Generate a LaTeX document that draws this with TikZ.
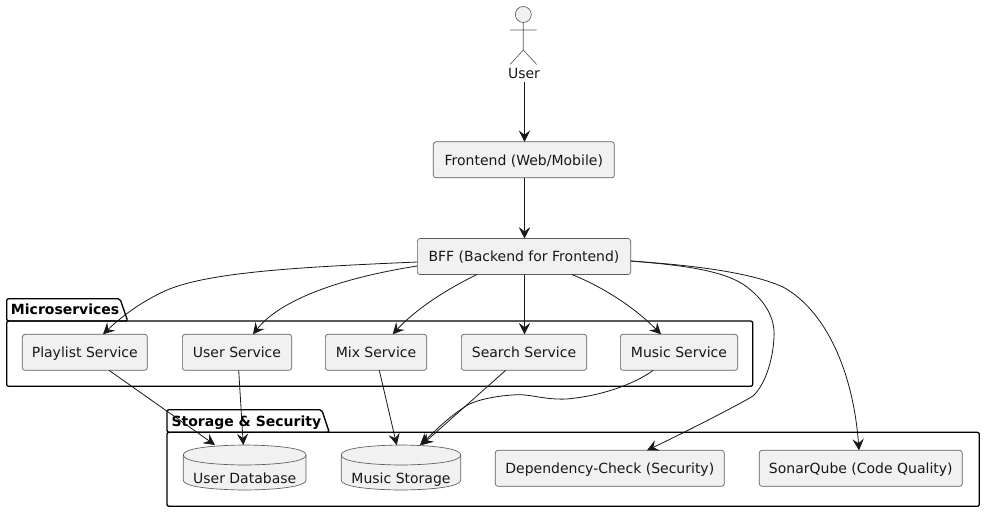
\documentclass[tikz,border=0pt]{standalone}
\usepackage{fontspec}
\setmainfont{DejaVu Sans}
\usetikzlibrary{arrows.meta}
\definecolor{boxfill}{HTML}{F1F1F1}
\definecolor{ink}{HTML}{181818}
\tikzset{
  svc/.style={draw=ink!70,line width=.5pt,fill=boxfill,rounded corners=2pt,inner sep=0pt,outer sep=0pt,
    minimum height=27pt,font=\fontsize{10.5}{12}\selectfont,text=ink,text height=9.2pt,text depth=1pt},
  txt/.style={inner sep=0pt,font=\fontsize{10.5}{12}\selectfont,text=ink,text height=9.2pt,text depth=1pt},
  pkgtitle/.style={inner sep=0pt,anchor=west,font=\fontsize{10.5}{12}\selectfont\bfseries,text=black,text height=9.2pt,text depth=1pt},
  pkg/.style={draw=black,line width=1pt,rounded corners=1.5pt,line join=round},
  figure/.style={draw=ink!70,line width=.5pt,fill=boxfill},
  figline/.style={draw=ink!70,line width=.5pt},
  conn/.style={draw=ink,line width=.6pt,-{Stealth[length=8.5pt,width=8.5pt,inset=3.2pt]}},
  anchorbox/.style={inner sep=0pt,outer sep=0pt},
}
\newcommand{\cylshape}[3]{%
  \path[figure] (#1,455) .. controls (#1,445) and (#2,445) .. (#2,445)
    .. controls (#2,445) and (#3,445) .. (#3,455) -- (#3,480)
    .. controls (#3,490) and (#2,490) .. (#2,490)
    .. controls (#2,490) and (#1,490) .. (#1,480) -- cycle;
  \path[figline] (#1,455) .. controls (#1,465) and (#2,465) .. (#2,465)
    .. controls (#2,465) and (#3,465) .. (#3,455);
}
\begin{document}
\begin{tikzpicture}[x=.75pt,y=-.75pt]
\useasboundingbox (0,0) rectangle (985,512);
\fill[white] (0,0) rectangle (985,512);
% packages
\path[pkg] (6.7,321) -- (6.7,298.7) -- (120,298.7) -- (127.7,321) -- cycle;
\path[pkg] (6.7,321) rectangle (752.7,386.3);
\node[pkgtitle] (mstitle) at (10.7,309) {Microservices};
\path[pkg] (167,432.3) -- (167,409.7) -- (321.7,409.7) -- (329.3,432.3) -- cycle;
\path[pkg] (167,432.3) rectangle (979.3,506.3);
\node[pkgtitle] (sstitle) at (171.3,421) {Storage \& Security};
% actor
\coordinate (actorhip) at (523.3,50);
\path[figure] (523.3,14.5) circle[radius=8];
\path[figline] (523.3,22.5) -- (actorhip) (510,30) -- (536.7,30) (510,64.5) -- (actorhip) -- (536.7,64.5);
\node[txt] (user) at (524,73) {User};
\coordinate (userout) at (524.5,82);
% boxes
\node[svc,minimum width=135.75pt] (frontend) at (523.8,159.8) {Frontend (Web/Mobile)};
\node[svc,minimum width=160pt] (bff) at (524,256.5) {BFF (Backend for Frontend)};
\node[svc,minimum width=93.75pt] (playlist) at (84.8,352.3) {Playlist Service};
\node[svc,minimum width=82pt] (usersvc) at (237,352.3) {User Service};
\node[svc,minimum width=76pt] (mix) at (376,352.3) {Mix Service};
\node[svc,minimum width=94pt] (search) at (524,352.3) {Search Service};
\node[svc,minimum width=88pt] (music) at (679,352.3) {Music Service};
\node[svc,minimum width=171.75pt] (dep) at (609.8,468.3) {Dependency-Check (Security)};
\node[svc,minimum width=152.25pt] (sonar) at (860.8,468.3) {SonarQube (Code Quality)};
% databases
\node[anchorbox,minimum width=92pt,minimum height=33.75pt] (userdb) at (244.7,467.5) {};
\node[anchorbox,minimum width=89.5pt,minimum height=33.75pt] (musicdb) at (401,467.5) {};
\cylshape{183.3}{244.7}{306}
\cylshape{341.3}{401}{460.7}
\node[txt] (userdblabel) at (244.7,478) {User Database};
\node[txt] (musicdblabel) at (401,478) {Music Storage};
% connectors
\path[conn] (userout) -- (frontend.north -| userout);
\path[conn] (frontend.south -| userout) -- (bff.north -| userout);
\path[conn] (bff.west |- 0,262) .. controls (300,267) and (210,272) .. (167,290)
   .. controls (140,302) and (120,318) .. (playlist.north -| 103,0);
\path[conn] (bff.west |- 0,266) .. controls (340,278) and (280,300) .. (usersvc.north -| 253,0);
\path[conn] (bff.south -| 477,0) .. controls (445,290) and (415,310) .. (mix.north -| 392.7,0);
\path[conn] (bff.south -| userout) -- (search.north -| userout);
\path[conn] (bff.south -| 572,0) .. controls (605,288) and (635,308) .. (music.north -| 661,0);
\path[conn] (bff.east |- 0,261) .. controls (680,265) and (725,270) .. (747,287)
   .. controls (769,304) and (775,322) .. (774,337)
   .. controls (773,360) and (765,385) .. (753,396)
   .. controls (747,400) and (700,425) .. (dep.north -| 647,0);
\path[conn] (bff.east |- 0,261) .. controls (690,265) and (750,272) .. (783,287)
   .. controls (825,310) and (853,370) .. (sonar.north -| 859,0);
\path[conn] (playlist.south -| 109,0) -- (userdb.north -| 215,0);
\path[conn] (usersvc.south -| 238.7,0) -- (userdb.north -| 243.3,0);
\path[conn] (mix.south -| 379.3,0) -- (musicdb.north -| 396.7,0);
\path[conn] (search.south -| 505.7,0) -- (musicdb.north -| 421.7,0);
\path[conn] (music.south -| 653.3,0) .. controls (640,380) and (610,395) .. (566.7,399)
   .. controls (545,400) and (530,394) .. (516.7,394.7)
   .. controls (490,396) and (470,402) .. (463,408)
   .. controls (445,420) and (432,434) .. (musicdb.north -| 420,0);
\end{tikzpicture}
\end{document}
